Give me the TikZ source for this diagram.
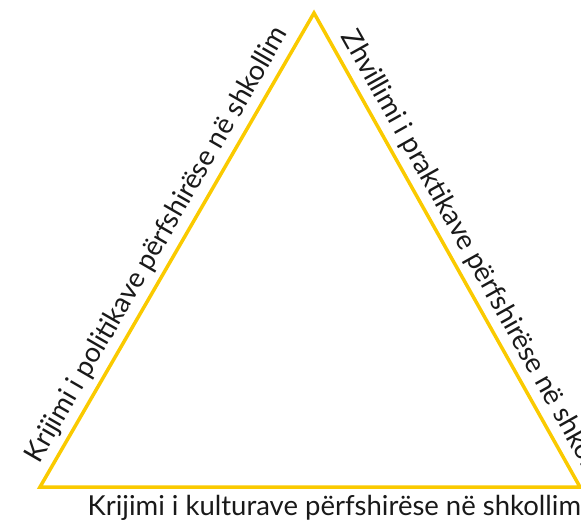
\documentclass[tikz,border=0pt]{standalone}
\usepackage{fontspec}
\setmainfont{Lato}
\definecolor{triyellow}{RGB}{250,202,0}
\definecolor{labelgray}{RGB}{25,25,25}
\tikzset{
  edge/.style={draw=triyellow, line width=3.5pt, line join=miter},
  lbl/.style={font=\fontsize{27.5}{32}\selectfont, text=labelgray, inner sep=0pt},
}
\begin{document}
\begin{tikzpicture}[x=1pt,y=-1pt]
\useasboundingbox (0,0) rectangle (581,522);
\coordinate (A) at (314,13);
\coordinate (B) at (40,487);
\coordinate (C) at (580,487);
\draw[edge] (A) -- (B) -- (C) -- cycle;
\path (B) -- node[lbl, sloped, above=7pt, pos=0.49] (L) {Krijimi i politikave përfshirëse në shkollim} (A);
\path (A) -- node[lbl, sloped, above=7pt, pos=0.55] (R) {Zhvillimi i praktikave përfshirëse në shkollim} (C);
\path (B) -- node[lbl, below=8pt, pos=0.545] (D) {Krijimi i kulturave përfshirëse në shkollim} (C);
\end{tikzpicture}
\end{document}
